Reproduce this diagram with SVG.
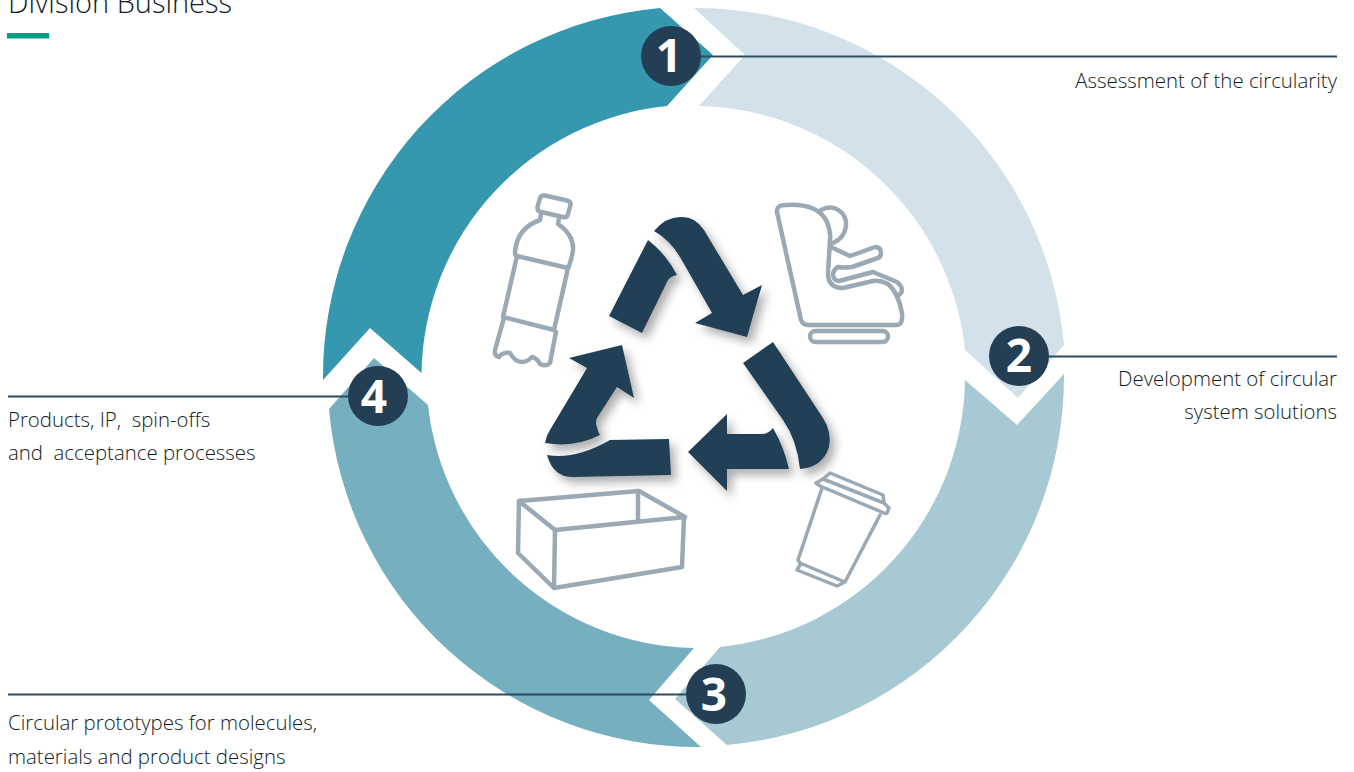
<svg xmlns="http://www.w3.org/2000/svg" width="1354" height="772" viewBox="0 0 1354 772">
<style>
.lbl{font-family:"Open Sans","Noto Sans","Liberation Sans",sans-serif;font-size:20.4px;font-weight:300;fill:#111c24;white-space:pre}
.head{font-family:"Open Sans","Noto Sans","Liberation Sans",sans-serif;font-size:29px;font-weight:300;fill:#111c24}
.num{font-family:"Open Sans","Noto Sans","Liberation Sans",sans-serif;font-size:46px;font-weight:700;fill:#fff;text-anchor:middle}
.badge{fill:#243f54}
.ic{fill:none;stroke:#9ba9b4;stroke-width:4.500;stroke-linejoin:round;stroke-linecap:round}
.thin{stroke-width:3.500}
.ar{fill:#243f54}
.ln{fill:none;stroke:#2c4a60;stroke-width:2}
.end{text-anchor:end}
</style>
<defs>
<filter id="sh" x="-20%" y="-20%" width="150%" height="150%"><feDropShadow dx="5" dy="6" stdDeviation="5" flood-color="#000" flood-opacity="0.32"/></filter>
</defs>
<g id="heading">
<text class="head" x="8" y="13">Division Business</text>
<rect x="7" y="33" width="42" height="5.5" fill="#009f85"/>
</g>
<g id="ring">
<path id="seg1" fill="#3598ae" d="M323 380A370 370 0 0 1 660 8L713 55L667 106A272.6 272.6 0 0 0 421.500 373L370 328Z"/>
<path id="seg2" fill="#d3e2ea" d="M694 8A370 370 0 0 1 1064 345L1018 398L965 350A272.600 272.600 0 0 0 699 106L745 55Z"/>
<path id="seg3" fill="#a6c9d4" d="M1064 374A370 370 0 0 1 727 745L675 699L720 647A272.600 272.600 0 0 0 965 380L1017 425Z"/>
<path id="seg4" fill="#75afc0" d="M701 747A370 370 0 0 1 329 409L374 358L428 405A272.600 272.600 0 0 0 694 648L649 700Z"/>
</g>
<g id="connectors">
<path class="ln" d="M700 56.500H1337"/>
<path class="ln" d="M1040 356.500H1337"/>
<path class="ln" d="M8 694.500H700"/>
<path class="ln" d="M8 396.500H360"/>
</g>
<g id="node1"><circle class="badge" cx="671" cy="56" r="30"/><text class="num" x="669" y="72">1</text></g>
<g id="node2"><circle class="badge" cx="1019" cy="356" r="30"/><text class="num" x="1019" y="372">2</text></g>
<g id="node3"><circle class="badge" cx="716" cy="694" r="30"/><text class="num" x="714" y="711">3</text></g>
<g id="node4"><circle class="badge" cx="378" cy="396" r="30"/><text class="num" x="374" y="413">4</text></g>
<g id="labels">
<text class="lbl end" x="1337" y="88">Assessment of the circularity</text>
<text class="lbl end" x="1337" y="386">Development of circular</text>
<text class="lbl end" x="1337" y="419">system solutions</text>
<text class="lbl" x="8" y="427">Products, IP,  spin-offs</text>
<text class="lbl" x="8" y="460">and  acceptance processes</text>
<text class="lbl" x="8" y="730">Circular prototypes for molecules,</text>
<text class="lbl" x="8" y="764">materials and product designs</text>
</g>
<g id="recycle" filter="url(#sh)">
<path class="ar" d="M648 240Q667 255 677 275Q671 276 668 280L642 333L609 316Z"/>
<path class="ar" d="M654 231Q666 217 680 217Q695 216 704 230L743 295L762 285L747 337L695 323L712 313L680 257Q670 240 654 231Z"/>
<path class="ar" d="M587 368L569 358L622 345L634 398L617 387L597 418Q595 423 597 427Q598 432 600 435Q575 448 545 443Q546 436 550 430Z"/>
<path class="ar" d="M547 455Q575 460 610 440L669 439L671 475L573 477Q553 477 547 455Z"/>
<path class="ar" d="M743 363L773 342L823 418Q832 432 829 447Q823 467 800 469Q797 440 783 420Z"/>
<path class="ar" d="M688 452L727 414V434H762Q768 434 773 428Q784 447 789 469H727V491Z"/>
</g>
<g id="bottle" class="ic">
<path d="M545 195.500L567 200.500Q571 201.500 570.500 205L568 214Q567 218 563 217L541 212Q537 211 537.500 207L540 198Q541 195 545 195.500Z"/>
<path d="M541 214L540 220Q517 228 515 252Q515 256 517 256L568 268Q571 262 573 250Q574 235 558 224L559 218"/>
<path d="M517 256L503 317L554 330L568 268"/>
<path d="M504 318L495 350Q494 356 499 357Q503 352 510 353Q515 362 522 362Q527 362 532 357Q537 358 540 364Q546 367 550 363L556 332"/>
</g>
<g id="seat" class="ic">
<path d="M777 212Q776 205 786 205Q818 203 827 222Q831 232 830 240L828 273Q828 288 843 288L873 281Q880 280 888 284Q898 292 902 313Q903 325 897 325H808Q803 325 801 320L777 212Z"/>
<path d="M821 210C835 203 847 213 846 226C845 234 840 240 833 243"/>
<path d="M831 247L850 256L875 247Q881 247 881 253Q881 258 875 259L852 267Q843 268 838 267Q833 270 833 275Q834 281 839 281L873 272L897 282Q904 288 901 293L898 296"/>
<rect x="810" y="331" width="78" height="11" rx="5.500"/>
</g>
<g id="box" class="ic">
<path d="M519 501L639 491L685 517L555 530Z"/>
<path d="M638 491V520"/>
<path d="M555 530L554 588L682 567L684 517"/>
<path d="M519 501L518 553L554 588"/>
</g>
<g id="cup" class="ic thin">
<path d="M830 473L883 495L884 503L889 508L887 513Q886 514 884 513L820 486L816 483L823 479Z"/>
<path d="M823 479L884 503"/>
<path d="M822 488L798 560L800 563L845 582L880 515"/>
<path d="M800 565L797 570L837 586L843 583"/>
</g>
</svg>
